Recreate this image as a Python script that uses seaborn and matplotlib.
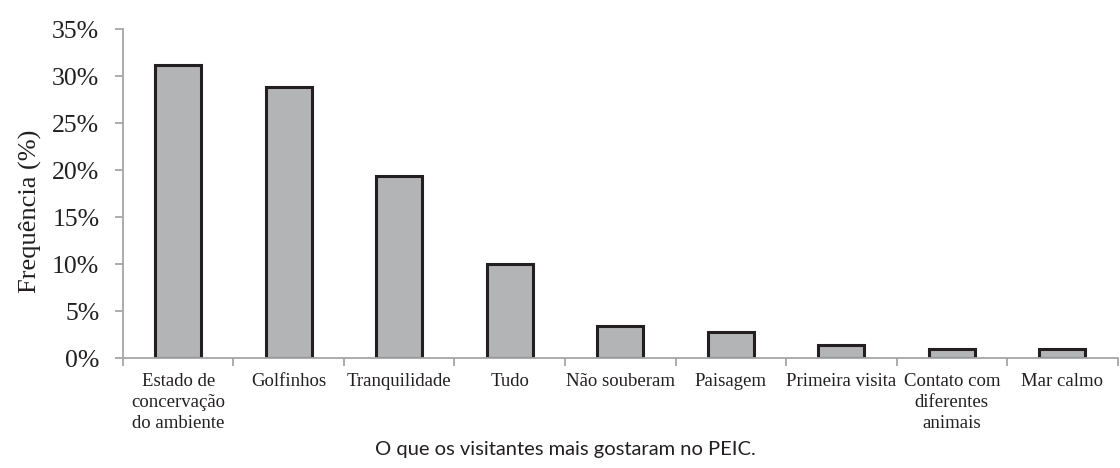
import matplotlib
matplotlib.use("Agg")
import matplotlib.pyplot as plt
import seaborn as sns
import pandas as pd
from matplotlib.ticker import FixedLocator, FuncFormatter

categories = ["Estado de\nconcervação\ndo ambiente", "Golfinhos", "Tranquilidade", "Tudo",
              "Não souberam", "Paisagem", "Primeira visita", "Contato com\ndiferentes\nanimais",
              "Mar calmo"]
values = [31.2, 28.8, 19.4, 10.0, 3.4, 2.8, 1.4, 1.0, 1.0]
yticks = [0, 5, 10, 15, 20, 25, 30, 35]

sns.set_theme(style="white")
plt.rcParams['font.family'] = ['Liberation Serif', 'DejaVu Serif']

df = pd.DataFrame({"cat": categories, "val": values})

fig = plt.figure(figsize=(11.2, 4.68), dpi=100)
ax = fig.add_axes([0.1098, 0.235, 0.888, 0.703])

sns.barplot(data=df, x="cat", y="val", ax=ax, color="#b3b4b6", saturation=1,
            width=0.42, edgecolor="#231f20", linewidth=2.2)

ax.set_ylim(0, 35)
ax.set_xlim(-0.5, len(categories) - 0.5)
ax.yaxis.set_major_locator(FixedLocator(yticks))
ax.yaxis.set_major_formatter(FuncFormatter(lambda v, p: f"{int(v)}%"))

for s in ["top", "right"]:
    ax.spines[s].set_visible(False)
for s in ["left", "bottom"]:
    ax.spines[s].set_color("#a6a6a6")
    ax.spines[s].set_linewidth(1.3)

ax.tick_params(axis="y", which="major", direction="out", length=6, width=1.3,
               color="#a6a6a6", labelsize=18.5, pad=11, left=True, labelcolor="#231f20")
ax.set_xticks(range(len(categories)))
ax.set_xticklabels(categories, fontsize=13.5, linespacing=1.3, color="#231f20")
ax.tick_params(axis="x", which="major", length=0, pad=11)
ax.set_xticks([i - 0.5 for i in range(len(categories) + 1)], minor=True)
ax.tick_params(axis="x", which="minor", direction="out", length=6, width=1.3,
               color="#a6a6a6", bottom=True)

ax.set_xlabel("")
ax.set_ylabel("Frequência (%)", fontsize=19, color="#231f20")
ax.yaxis.set_label_coords(-0.0815, 0.447)

fig.text(0.505, 0.039, "O que os visitantes mais gostaram no PEIC.", ha="center", va="center",
         fontsize=14.5, family=["Lato", "DejaVu Sans"], color="#231f20")

fig.savefig("out.png", dpi=100)
